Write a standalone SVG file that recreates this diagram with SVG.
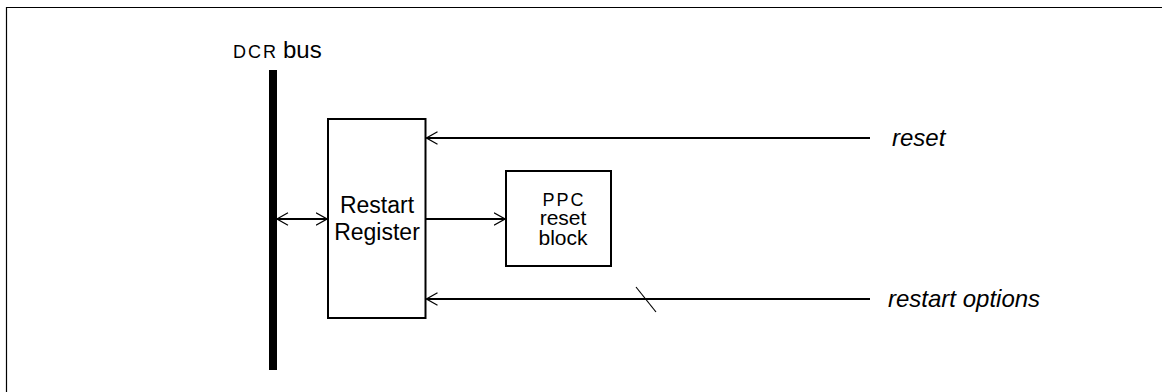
<svg xmlns="http://www.w3.org/2000/svg" width="1162" height="392" viewBox="0 0 1162 392">
<style>
  .box { fill: #fff; stroke: #000; stroke-width: 2; }
  .conn { fill: none; stroke: #000; stroke-width: 1.8; }
  .t { font-family: "Liberation Sans", Arial, sans-serif; fill: #000; }
  .sc { font-size: 18px; letter-spacing: 2px; }
  .it { font-style: italic; font-size: 24px; }
</style>
<defs>
  <marker id="arr" viewBox="0 0 12 14" refX="11.5" refY="7" markerWidth="12" markerHeight="14" markerUnits="userSpaceOnUse" orient="auto-start-reverse">
    <path d="M0.5,0.8 L11.5,7 L0.5,13.2" fill="none" stroke="#000" stroke-width="1.2"/>
  </marker>
</defs>
<rect width="1162" height="392" fill="#fff"/>
<path d="M6.5,392 V7.5 H1162" fill="none" stroke="#000" stroke-width="1.2"/>

<g id="dcr-bus">
  <rect x="269" y="70" width="8" height="300" fill="#000"/>
  <text class="t" x="233" y="57.5"><tspan class="sc">DCR</tspan><tspan font-size="24" letter-spacing="0" dx="5">bus</tspan></text>
</g>

<g id="restart-register">
  <rect class="box" x="328" y="119" width="97.5" height="199"/>
  <text class="t" font-size="23" text-anchor="middle"><tspan x="377" y="213.3">Restart</tspan><tspan x="377" y="240">Register</tspan></text>
</g>

<g id="ppc-reset-block">
  <rect class="box" x="506" y="171" width="105" height="95"/>
  <text class="t sc" x="564" y="205.5" text-anchor="middle">PPC</text>
  <text class="t" font-size="21" text-anchor="middle"><tspan x="563" y="224.5">reset</tspan><tspan x="563" y="245">block</tspan></text>
</g>

<g id="reset-label">
  <text class="t it" x="892" y="146">reset</text>
</g>

<g id="restart-options-label">
  <text class="t it" x="888" y="306.5">restart options</text>
</g>

<g id="connectors">
  <path class="conn" d="M277,219 H327" marker-start="url(#arr)" marker-end="url(#arr)"/>
  <path class="conn" d="M426,219 H505" marker-end="url(#arr)"/>
  <path class="conn" d="M870,138 H426.5" marker-end="url(#arr)"/>
  <path class="conn" d="M870,299 H426.5" marker-end="url(#arr)"/>
  <path d="M636,287 L656,312" fill="none" stroke="#000" stroke-width="1.2"/>
</g>
</svg>
